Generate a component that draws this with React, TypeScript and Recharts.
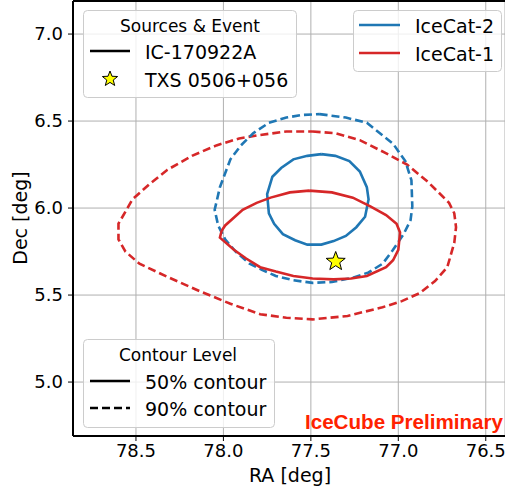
import { ScatterChart, Scatter, XAxis, YAxis, CartesianGrid, ReferenceLine } from "recharts"

const BLUE = "#1f77b4"
const RED = "#d62728"
const FONT = "DejaVu Sans, Verdana, sans-serif"
const LW = 2.6
const DASH = "8 4"

const raTicks = [78.5, 78.0, 77.5, 77.0, 76.5]
const decTicks = [5.0, 5.5, 6.0, 6.5, 7.0]
const raDomain = [76.39, 78.86]
const decDomain = [4.69, 7.19]

// IceCat-2, 90% contour
const ic2_90: [number, number][] = [
  [77.45, 6.54], [77.30, 6.52], [77.18, 6.49], [77.03, 6.37], [76.96, 6.27], [76.925, 6.16],
  [76.92, 6.01], [76.93, 5.93], [76.97, 5.85], [77.03, 5.76], [77.09, 5.68], [77.17, 5.63],
  [77.26, 5.60], [77.38, 5.575], [77.49, 5.57], [77.60, 5.585], [77.70, 5.61], [77.78, 5.645],
  [77.85, 5.68], [77.93, 5.75], [77.99, 5.82], [78.03, 5.90], [78.05, 5.99], [78.02, 6.12],
  [77.96, 6.28], [77.90, 6.36], [77.83, 6.43], [77.74, 6.49], [77.64, 6.52], [77.55, 6.535],
  [77.45, 6.54],
]

// IceCat-2, 50% contour
const ic2_50: [number, number][] = [
  [77.44, 6.31], [77.36, 6.30], [77.28, 6.27], [77.22, 6.21], [77.18, 6.12], [77.17, 6.05],
  [77.19, 5.95], [77.24, 5.89], [77.30, 5.84], [77.37, 5.81], [77.44, 5.79], [77.52, 5.79],
  [77.59, 5.815], [77.66, 5.85], [77.71, 5.91], [77.74, 5.97], [77.75, 6.08], [77.72, 6.18],
  [77.67, 6.23], [77.60, 6.28], [77.52, 6.30], [77.44, 6.31],
]

// IceCat-1, 50% contour
const ic1_50: [number, number][] = [
  [77.51, 6.10], [77.38, 6.09], [77.26, 6.06], [77.16, 6.01], [77.07, 5.96], [77.01, 5.91],
  [76.99, 5.86], [77.00, 5.76], [77.03, 5.70], [77.07, 5.66], [77.18, 5.61], [77.27, 5.595],
  [77.37, 5.59], [77.49, 5.595], [77.60, 5.61], [77.70, 5.635], [77.79, 5.66], [77.87, 5.71],
  [77.94, 5.76], [78.02, 5.83], [78.01, 5.87], [77.99, 5.90], [77.89, 5.99], [77.81, 6.03],
  [77.73, 6.06], [77.62, 6.09], [77.51, 6.10],
]

// IceCat-1, 90% contour
const ic1_90: [number, number][] = [
  [77.49, 6.44], [77.36, 6.43], [77.22, 6.39], [77.08, 6.32], [76.95, 6.25], [76.83, 6.15],
  [76.71, 6.03], [76.68, 5.97], [76.67, 5.89], [76.68, 5.80], [76.72, 5.66], [76.79, 5.58],
  [76.88, 5.51], [76.98, 5.465], [77.09, 5.43], [77.29, 5.38], [77.49, 5.36], [77.64, 5.37],
  [77.79, 5.39], [77.96, 5.45], [78.13, 5.52], [78.31, 5.60], [78.48, 5.68], [78.56, 5.75],
  [78.60, 5.82], [78.60, 5.91], [78.52, 6.05], [78.42, 6.14], [78.32, 6.22], [78.18, 6.30],
  [78.04, 6.36], [77.91, 6.40], [77.79, 6.42], [77.64, 6.44], [77.49, 6.44],
]

const txs: [number, number][] = [[77.358, 5.693]]

const toPts = (arr: [number, number][]) => arr.map(([ra, dec]) => ({ ra, dec }))

const starPoints = (cx: number, cy: number, ro: number, ri: number) => {
  const pts: string[] = []
  for (let i = 0; i < 10; i++) {
    const r = i % 2 === 0 ? ro : ri
    const a = -Math.PI / 2 + (i * Math.PI) / 5
    pts.push(`${cx + r * Math.cos(a)},${cy + r * Math.sin(a)}`)
  }
  return pts.join(" ")
}

const Star = (props: any) => {
  const { cx, cy } = props
  return <polygon points={starPoints(cx, cy, 10, 4.2)} fill="#ffff00" stroke="#000" strokeWidth={1} />
}

const Nothing = () => <g />

const tickStyle = { fill: "#000", fontSize: 18, fontFamily: FONT }

function Overlay() {
  const box = { fill: "rgba(255,255,255,0.8)", stroke: "#cccccc", strokeWidth: 1 }
  const txt = { fontFamily: FONT, fontSize: 19, fill: "#000" }
  return (
    <svg width={505} height={496} style={{ position: "absolute", left: 0, top: 0, pointerEvents: "none" }}>
      {/* Sources & Event */}
      <rect x={83.5} y={10.5} width={213} height={87} rx={4} {...box} />
      <text x={190} y={26} textAnchor="middle" dominantBaseline="central" {...txt} fontSize={17}>Sources &amp; Event</text>
      <line x1={90} x2={130} y1={51} y2={51} stroke="#000" strokeWidth={LW} />
      <text x={145} y={52} dominantBaseline="central" {...txt}>IC-170922A</text>
      <polygon points={starPoints(110, 79, 8, 3.4)} fill="#ffff00" stroke="#000" strokeWidth={1} />
      <text x={145} y={80} dominantBaseline="central" {...txt}>TXS 0506+056</text>

      {/* IceCat */}
      <rect x={353.5} y={10.5} width={148} height={61} rx={4} {...box} />
      <line x1={359} x2={400} y1={25} y2={25} stroke={BLUE} strokeWidth={LW} />
      <text x={415} y={26} dominantBaseline="central" {...txt}>IceCat-2</text>
      <line x1={359} x2={400} y1={53} y2={53} stroke={RED} strokeWidth={LW} />
      <text x={415} y={54} dominantBaseline="central" {...txt}>IceCat-1</text>

      {/* Contour Level */}
      <rect x={83.5} y={339.5} width={191} height={88} rx={4} {...box} />
      <text x={178} y={355} textAnchor="middle" dominantBaseline="central" {...txt} fontSize={17}>Contour Level</text>
      <line x1={90} x2={130} y1={381} y2={381} stroke="#000" strokeWidth={LW} />
      <text x={145} y={382} dominantBaseline="central" {...txt}>50% contour</text>
      <line x1={90} x2={130} y1={408} y2={408} stroke="#000" strokeWidth={LW} strokeDasharray={DASH} />
      <text x={145} y={409} dominantBaseline="central" {...txt}>90% contour</text>

      <text x={503} y={421} textAnchor="end" dominantBaseline="central" fontFamily="Liberation Sans, Arial, sans-serif" fontWeight="bold" fontSize={20.6} fill="#ff2200">IceCube Preliminary</text>

      <text x={290} y={475} textAnchor="middle" dominantBaseline="central" {...txt}>RA [deg]</text>
      <text x={20} y={218} textAnchor="middle" dominantBaseline="central" transform="rotate(-90 20 218)" {...txt}>Dec [deg]</text>
    </svg>
  )
}

export default function App() {
  return (
    <div style={{ position: "absolute", left: 0, top: 0, width: 505, height: 496, background: "#fff", overflow: "hidden" }}>
      <ScatterChart width={505} height={496} margin={{ top: 1, right: 0, bottom: 0, left: 13 }}>
        <CartesianGrid stroke="#b0b0b0" strokeWidth={1} />
        <XAxis
          type="number"
          dataKey="ra"
          domain={raDomain}
          ticks={raTicks}
          reversed
          allowDataOverflow
          height={60}
          tick={tickStyle}
          tickFormatter={(v: number) => v.toFixed(1)}
          tickSize={5}
          tickMargin={3}
          axisLine={{ stroke: "#000", strokeWidth: 2 }}
          tickLine={{ stroke: "#000" }}
        />
        <YAxis
          type="number"
          dataKey="dec"
          domain={decDomain}
          ticks={decTicks}
          allowDataOverflow
          width={60}
          tick={tickStyle}
          tickFormatter={(v: number) => v.toFixed(1)}
          tickSize={5}
          tickMargin={5}
          axisLine={{ stroke: "#000", strokeWidth: 2 }}
          tickLine={{ stroke: "#000" }}
        />
        <ReferenceLine y={decDomain[1]} stroke="#000" strokeWidth={2} />
        <Scatter data={toPts(ic1_90)} fill={RED} line={{ strokeWidth: LW, strokeDasharray: DASH }} shape={Nothing} isAnimationActive={false} />
        <Scatter data={toPts(ic2_90)} fill={BLUE} line={{ strokeWidth: LW, strokeDasharray: DASH }} shape={Nothing} isAnimationActive={false} />
        <Scatter data={toPts(ic2_50)} fill={BLUE} line={{ strokeWidth: LW }} shape={Nothing} isAnimationActive={false} />
        <Scatter data={toPts(ic1_50)} fill={RED} line={{ strokeWidth: LW }} shape={Nothing} isAnimationActive={false} />
        <Scatter data={toPts(txs)} fill="#ffff00" shape={Star} isAnimationActive={false} />
      </ScatterChart>
      <Overlay />
    </div>
  )
}
